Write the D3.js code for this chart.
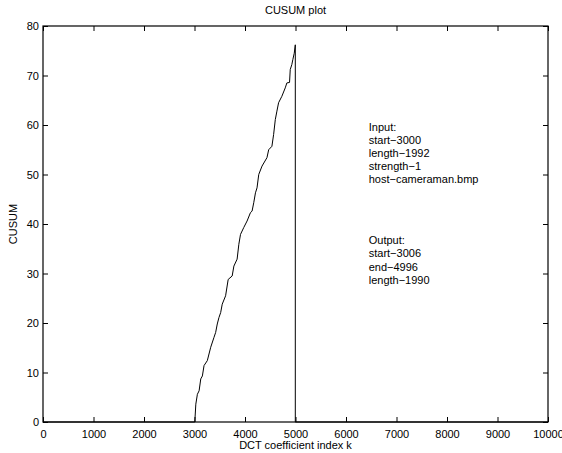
<!DOCTYPE html>
<html>
<head>
<meta charset="utf-8">
<script src="https://d3js.org/d3.v7.min.js"></script>
<style>
  body { margin: 0; background: #fff; }
  svg text { font-family: "Liberation Sans", Arial, sans-serif; font-size: 11px; fill: #000; }
</style>
</head>
<body>
<div id="chart"></div>
<script>
// CUSUM curve (coefficient index, cusum value)
const cusumIndex = [0, 3006, 3026, 3057, 3091, 3124, 3156, 3189, 3254, 3321, 3386, 3419, 3451, 3484, 3518, 3549,
  3616, 3667, 3746, 3780, 3844, 3878, 3911, 3976, 4041, 4108, 4140, 4173, 4207, 4238, 4272, 4337,
  4435, 4469, 4533, 4567, 4600, 4632, 4665, 4730, 4797, 4829, 4882, 4896, 4927, 4947, 4975, 4996, 4996, 10000];
const cusumValue = [0, 0, 3.6, 5.6, 6.3, 8.7, 9.3, 11.4, 12.4, 15.1, 17.1, 18.1, 19.8, 21.1, 22.1, 23.8,
  25.5, 28.8, 29.5, 31.5, 32.9, 35.9, 37.9, 39.3, 40.6, 42.3, 42.6, 44.3, 46.3, 47.3, 50.0, 51.7,
  53.4, 55.0, 55.7, 58.1, 61.1, 62.8, 64.5, 65.8, 67.5, 68.5, 68.6, 71.2, 72.2, 73.2, 74.5, 76.2, 0, 0];

const xTicks = [0, 1000, 2000, 3000, 4000, 5000, 6000, 7000, 8000, 9000, 10000];
const yTicks = [0, 10, 20, 30, 40, 50, 60, 70, 80];

const inputNotes = ["Input:", "start\u22123000", "length\u22121992", "strength\u22121", "host\u2212cameraman.bmp"];
const outputNotes = ["Output:", "start\u22123006", "end\u22124996", "length\u22121990"];

const W = 562, H = 453;
const margin = { top: 26, right: 14, bottom: 31, left: 43 };
const width = W - margin.left - margin.right;
const height = H - margin.top - margin.bottom;

const svg = d3.select("#chart").append("svg")
  .attr("width", W)
  .attr("height", H);

const g = svg.append("g")
  .attr("transform", `translate(${margin.left},${margin.top})`);

const x = d3.scaleLinear().domain([0, 10000]).range([0, width]);
const y = d3.scaleLinear().domain([0, 80]).range([height, 0]);

// axes with inward ticks, mirrored on top / right
const bottomAxis = g.append("g")
  .attr("transform", `translate(0,${height})`)
  .call(d3.axisBottom(x).tickValues(xTicks).tickSize(-5).tickPadding(8).tickFormat(d3.format("d")));
const topAxis = g.append("g")
  .call(d3.axisTop(x).tickValues(xTicks).tickSize(-5).tickFormat(""));
const leftAxis = g.append("g")
  .call(d3.axisLeft(y).tickValues(yTicks).tickSize(-5).tickPadding(4).tickFormat(d3.format("d")));
const rightAxis = g.append("g")
  .attr("transform", `translate(${width},0)`)
  .call(d3.axisRight(y).tickValues(yTicks).tickSize(-5).tickFormat(""));

[bottomAxis, topAxis, leftAxis, rightAxis].forEach(a => {
  a.select(".domain").remove();
  a.selectAll("line").attr("stroke", "#000");
  a.selectAll("text").style("font-family", "'Liberation Sans', Arial, sans-serif").style("font-size", "11px").attr("fill", "#000");
});

// plot box
g.append("rect")
  .attr("x", 0).attr("y", 0)
  .attr("width", width).attr("height", height)
  .attr("fill", "none")
  .attr("stroke", "#000")
  .attr("stroke-width", 1.2);

// cusum line
const pts = cusumIndex.map((k, i) => [k, cusumValue[i]]);
g.append("path")
  .datum(pts)
  .attr("fill", "none")
  .attr("stroke", "#000")
  .attr("stroke-width", 1)
  .attr("d", d3.line().x(d => x(d[0])).y(d => y(d[1])));

// annotations
const noteX = x(6450);
g.selectAll(".note-in")
  .data(inputNotes)
  .enter().append("text")
  .attr("class", "note-in")
  .attr("x", noteX)
  .attr("y", (d, i) => y(59.5) + i * 13)
  .attr("dy", "0.35em")
  .text(d => d);

g.selectAll(".note-out")
  .data(outputNotes)
  .enter().append("text")
  .attr("class", "note-out")
  .attr("x", noteX)
  .attr("y", (d, i) => y(36.8) + i * 13.5)
  .attr("dy", "0.35em")
  .text(d => d);

// titles
svg.append("text")
  .attr("x", margin.left + width / 2)
  .attr("y", 14)
  .attr("text-anchor", "middle")
  .text("CUSUM plot");

svg.append("text")
  .attr("x", margin.left + width / 2)
  .attr("y", 449)
  .attr("text-anchor", "middle")
  .text("DCT coefficient index k");

svg.append("text")
  .attr("transform", `translate(17,${margin.top + height / 2}) rotate(-90)`)
  .attr("text-anchor", "middle")
  .text("CUSUM");
</script>
</body>
</html>
